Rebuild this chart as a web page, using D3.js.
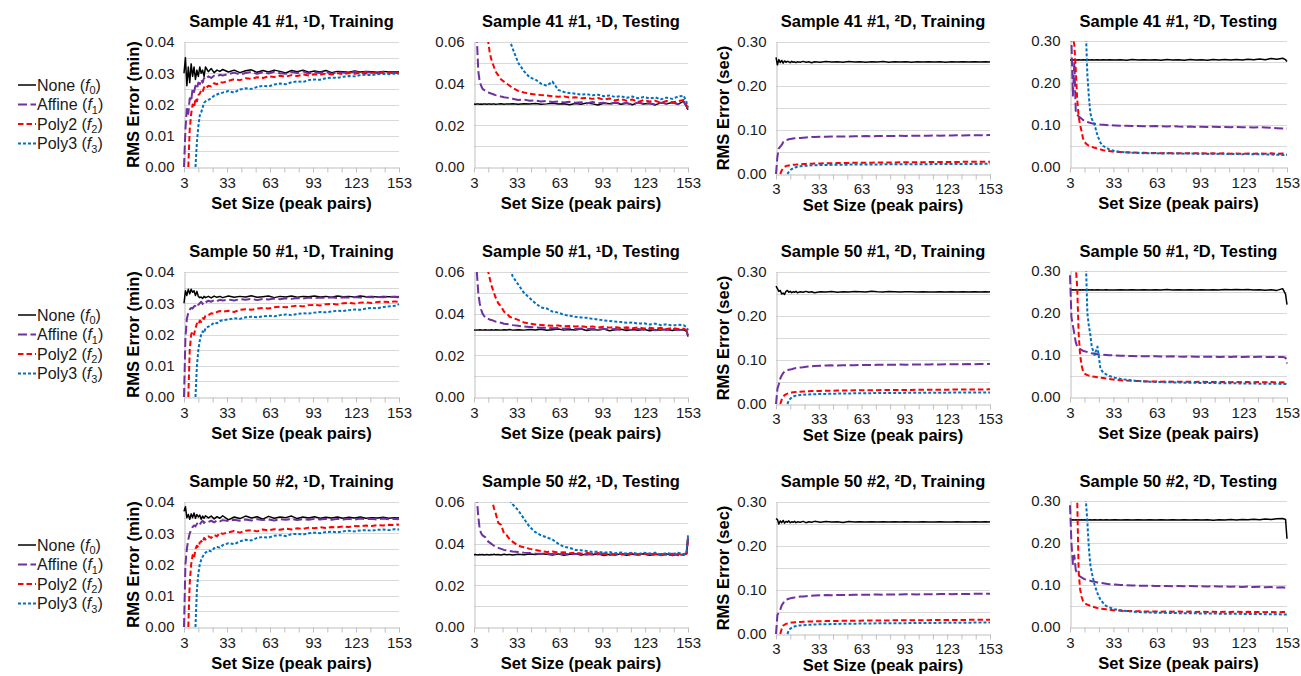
<!DOCTYPE html>
<html><head><meta charset="utf-8">
<script src="https://cdnjs.cloudflare.com/ajax/libs/d3/7.8.5/d3.min.js"></script>
<style>body{margin:0;background:#fff}svg{display:block;font-family:"Liberation Sans",Arial,sans-serif}</style>
</head><body><script>
// ---------- DATA ----------
const setSizes = [3,4,5,6,7,8,9,10,11,12,13,14,15,16,17,18,20,22,24,26,28,30,34,38,42,46,50,54,58,62,66,70,74,78,82,86,90,94,98,102,106,110,114,118,122,126,130,134,138,142,146,150,152,153];
const xTickLabels = [3,33,63,93,123,153];
const seriesNames = ["None","Affine","Poly2","Poly3"];
const seriesSubs = ["0","1","2","3"];
const sampleLabels = ["Sample 41 #1","Sample 50 #1","Sample 50 #2"];
const dimLabels = ["\u00B9D","\u00B9D","\u00B2D","\u00B2D"];
const phaseLabels = ["Training","Testing","Training","Testing"];
const yTitles = ["RMS Error (min)",null,"RMS Error (sec)",null];
const xTitle = "Set Size (peak pairs)";

// Sample 41 #1, 1D, Training
const S41_1D_Train_None=[0.030,0.035,0.026,0.032,0.027,0.033,0.029,0.032,0.028,0.031,0.029,0.032,0.030,0.031,0.029,0.032,
0.0305,0.0315,0.0302,0.031,0.0306,0.0312,
0.0304,0.031,0.0302,0.0308,0.0311,0.0303,0.0309,0.0304,0.031,0.0306,0.0301,0.0309,0.0305,0.031,0.0303,0.0307,0.0304,0.0309,0.0302,0.0306,0.0305,0.0303,0.0307,0.0304,0.0306,0.0305,0.0303,0.0306,0.0304,0.0305,0.0304,0.0305];
const S41_1D_Train_Affine=[0,0.012,0.019,0.017,0.022,0.021,0.025,0.024,0.026,0.025,0.027,0.0265,0.028,0.027,0.0285,0.028,
0.029,0.0285,0.0292,0.029,0.0295,0.0293,
0.0297,0.0302,0.0296,0.0301,0.0304,0.0298,0.0303,0.0299,0.0305,0.03,0.0298,0.0304,0.0301,0.0306,0.0299,0.0303,0.0301,0.0305,0.0298,0.0303,0.0302,0.03,0.0305,0.0301,0.0304,0.0302,0.03,0.0303,0.0302,0.0303,0.0301,0.0302];
const S41_1D_Train_Poly2=[null,null,null,0,0.012,0.017,0.02,0.019,0.022,0.021,0.023,0.0235,0.0245,0.024,0.0255,0.025,
0.026,0.0258,0.0268,0.0265,0.0272,0.027,
0.0276,0.0281,0.0278,0.0284,0.0282,0.0287,0.0285,0.029,0.0288,0.0292,0.0289,0.0294,0.0291,0.0296,0.0293,0.0297,0.0295,0.0299,0.0296,0.03,0.0297,0.0301,0.0298,0.0302,0.0299,0.0302,0.03,0.0303,0.0301,0.0302,0.0301,0.0302];
const S41_1D_Train_Poly3=[null,null,null,null,null,null,null,null,0,0.008,0.013,0.0165,0.0175,0.019,0.0205,0.021,
0.0215,0.022,0.0228,0.0232,0.0236,0.0238,
0.0243,0.0238,0.0248,0.0252,0.025,0.0256,0.026,0.0258,0.0264,0.0267,0.0265,0.0271,0.0274,0.0272,0.0278,0.028,0.0279,0.0284,0.0286,0.0285,0.0289,0.0291,0.029,0.0294,0.0295,0.0294,0.0297,0.0298,0.0297,0.0299,0.0298,0.0299];

// Sample 50 #1, 1D, Training
const S50a_1D_Train_None=[0.030,0.034,0.0325,0.0345,0.033,0.0345,0.0335,0.034,0.0325,0.0338,0.0322,0.0318,0.032,0.0315,0.0322,0.0318,
0.0322,0.0317,0.0323,0.0319,0.0322,0.0318,
0.0323,0.0319,0.0322,0.032,0.0324,0.0319,0.0321,0.0323,0.0318,0.0322,0.032,0.0323,0.0319,0.0322,0.0321,0.0323,0.032,0.0322,0.0319,0.0323,0.0321,0.0322,0.032,0.0323,0.0321,0.0322,0.032,0.0322,0.0321,0.0322,0.0321,0.0322];
const S50a_1D_Train_Affine=[0,0.019,0.025,0.027,0.028,0.0285,0.0283,0.029,0.0292,0.03,0.0295,0.03,0.0305,0.0298,0.0306,0.0303,
0.0308,0.0305,0.031,0.0307,0.0311,0.0309,
0.0312,0.0309,0.0313,0.0311,0.0314,0.031,0.0314,0.0312,0.0315,0.0313,0.0316,0.0314,0.0317,0.0315,0.0318,0.0316,0.0318,0.0317,0.0319,0.0317,0.0319,0.0318,0.032,0.0318,0.032,0.0319,0.032,0.0319,0.032,0.032,0.0319,0.032];
const S50a_1D_Train_Poly2=[null,null,null,0,0.015,0.02,0.021,0.02,0.022,0.0235,0.023,0.0245,0.024,0.0252,0.025,0.026,
0.0262,0.0268,0.0266,0.0272,0.0275,0.0273,
0.0276,0.0272,0.0279,0.0281,0.0279,0.0283,0.0285,0.0283,0.0287,0.0289,0.0287,0.029,0.0292,0.029,0.0294,0.0295,0.0293,0.0297,0.0298,0.0296,0.03,0.0301,0.0299,0.0302,0.0303,0.0301,0.0304,0.0305,0.0304,0.0306,0.0305,0.0306];
const S50a_1D_Train_Poly3=[null,null,null,null,null,null,null,null,0,0.01,0.015,0.018,0.02,0.021,0.0205,0.022,
0.0225,0.023,0.0238,0.0236,0.0243,0.0246,
0.0248,0.0252,0.025,0.0255,0.0257,0.0255,0.0258,0.026,0.0258,0.0262,0.0264,0.0262,0.0266,0.0268,0.0267,0.027,0.0272,0.0271,0.0274,0.0276,0.0275,0.0278,0.028,0.0279,0.0283,0.0285,0.0284,0.0288,0.029,0.0292,0.0295,0.0297];

// Sample 50 #2, 1D, Training
const S50b_1D_Train_None=[0.037,0.0385,0.035,0.036,0.0345,0.0362,0.035,0.0365,0.0348,0.036,0.0352,0.0358,0.0345,0.0355,0.0348,0.0356,
0.0349,0.0355,0.0346,0.0353,0.0348,0.0356,
0.0343,0.0352,0.0347,0.0355,0.0349,0.0353,0.0345,0.0354,0.0348,0.0352,0.035,0.0355,0.0347,0.0352,0.0349,0.0353,0.0348,0.0351,0.0349,0.0352,0.0348,0.0351,0.0349,0.0352,0.0348,0.035,0.0349,0.0351,0.0348,0.035,0.0349,0.035];
const S50b_1D_Train_Affine=[0,0.02,0.025,0.028,0.03,0.031,0.032,0.0325,0.0322,0.033,0.0335,0.0328,0.0335,0.034,0.0333,0.0338,
0.0336,0.034,0.0335,0.0341,0.0338,0.0342,
0.0339,0.0343,0.034,0.0344,0.0341,0.0345,0.0342,0.0344,0.0341,0.0345,0.0343,0.0346,0.0342,0.0345,0.0343,0.0346,0.0344,0.0346,0.0343,0.0346,0.0344,0.0346,0.0344,0.0347,0.0345,0.0346,0.0344,0.0347,0.0345,0.0346,0.0345,0.0346];
const S50b_1D_Train_Poly2=[null,null,null,0,0.014,0.02,0.023,0.022,0.025,0.026,0.0255,0.027,0.0275,0.027,0.0285,0.028,
0.029,0.0285,0.0295,0.029,0.0302,0.0298,
0.0303,0.0307,0.0302,0.0308,0.031,0.0306,0.0312,0.0309,0.0313,0.0311,0.0315,0.0312,0.0316,0.0314,0.0318,0.0316,0.0319,0.0317,0.032,0.0319,0.0322,0.032,0.0323,0.0322,0.0325,0.0323,0.0326,0.0325,0.0327,0.0326,0.0328,0.0327];
const S50b_1D_Train_Poly3=[null,null,null,null,null,null,null,null,0,0.012,0.017,0.02,0.0215,0.0225,0.0232,0.0238,
0.0245,0.0242,0.0252,0.0256,0.0254,0.0262,
0.0268,0.0265,0.0274,0.0279,0.0277,0.0285,0.0288,0.0286,0.0292,0.0294,0.0291,0.0297,0.0298,0.0296,0.03,0.0302,0.03,0.0304,0.0305,0.0303,0.0306,0.0308,0.0306,0.0309,0.031,0.0308,0.0311,0.0312,0.031,0.0313,0.0312,0.0313];

// Sample 41 #1, 1D, Testing
const S41_1D_Test_None=[0.0302,0.0301,0.0302,0.0303,0.0301,0.0302,0.0301,0.0303,0.0302,0.0301,0.0302,0.0303,0.0301,0.0302,0.0303,0.0301,
0.0302,0.0304,0.0301,0.0303,0.0302,0.0304,
0.0301,0.0304,0.0302,0.0305,0.0301,0.0303,0.0306,0.0302,0.0304,0.0299,0.0305,0.0301,0.0307,0.0303,0.0298,0.0306,0.0304,0.0308,0.0301,0.0306,0.0299,0.0309,0.0302,0.0306,0.0298,0.0308,0.0303,0.031,0.0302,0.0315,0.029,0.0275];
const S41_1D_Test_Affine=[0.1,0.08,0.062,0.046,0.041,0.039,0.0375,0.037,0.0365,0.036,0.0358,0.0355,0.0353,0.035,0.0348,0.0345,
0.0342,0.0338,0.0335,0.0333,0.033,0.0328,
0.0322,0.0324,0.0318,0.032,0.0314,0.0317,0.0312,0.0314,0.031,0.0313,0.0308,0.0311,0.0305,0.0312,0.0306,0.0309,0.0301,0.031,0.0304,0.0308,0.0299,0.031,0.0303,0.0306,0.03,0.0309,0.0303,0.0311,0.0301,0.0313,0.0291,0.0276];
const S41_1D_Test_Poly2=[0.2,0.15,0.12,0.1,0.09,0.08,0.075,0.07,0.066,0.062,0.06,0.055,0.052,0.05,0.048,0.046,
0.044,0.042,0.041,0.04,0.039,0.038,
0.0365,0.0358,0.0352,0.0348,0.0345,0.0343,0.034,0.0337,0.0339,0.0333,0.0335,0.033,0.0332,0.0327,0.0331,0.0323,0.0329,0.0319,0.0326,0.0318,0.0324,0.0312,0.0322,0.0314,0.0318,0.0308,0.0317,0.031,0.0316,0.0322,0.0295,0.027];
const S41_1D_Test_Poly3=[0.3,0.25,0.2,0.18,0.16,0.15,0.14,0.13,0.12,0.115,0.11,0.105,0.1,0.095,0.09,0.085,
0.08,0.075,0.07,0.066,0.061,0.057,
0.05,0.046,0.043,0.042,0.04,0.039,0.041,0.037,0.036,0.0355,0.0352,0.0348,0.035,0.0344,0.0347,0.034,0.0343,0.0336,0.034,0.0332,0.0338,0.033,0.0336,0.0329,0.0334,0.0325,0.0333,0.0327,0.0338,0.0342,0.031,0.0285];

// Sample 50 #1, 1D, Testing
const S50a_1D_Test_None=[0.0322,0.0321,0.0322,0.0321,0.0323,0.0322,0.0321,0.0322,0.0323,0.0321,0.0322,0.0321,0.0323,0.0322,0.0321,0.0323,
0.0322,0.0321,0.0323,0.0322,0.0324,0.0321,
0.0323,0.0321,0.0324,0.0322,0.0325,0.032,0.0323,0.0326,0.0321,0.0324,0.0322,0.0326,0.0319,0.0324,0.0321,0.0326,0.0318,0.0323,0.0325,0.0319,0.0324,0.032,0.0325,0.0318,0.0323,0.0321,0.0325,0.0319,0.0324,0.0322,0.0315,0.029];
const S50a_1D_Test_Affine=[0.09,0.075,0.06,0.05,0.045,0.042,0.04,0.039,0.038,0.0378,0.0375,0.0372,0.037,0.0368,0.0365,0.0362,
0.036,0.0356,0.0352,0.035,0.0348,0.0345,
0.0342,0.0338,0.0336,0.0334,0.0332,0.0333,0.033,0.0331,0.0328,0.033,0.0326,0.0329,0.0325,0.0328,0.0323,0.0327,0.0324,0.0326,0.0322,0.0327,0.0321,0.0326,0.0323,0.0327,0.032,0.0326,0.0322,0.0327,0.0321,0.0323,0.0316,0.0295];
const S50a_1D_Test_Poly2=[0.2,0.16,0.13,0.11,0.095,0.085,0.078,0.072,0.067,0.063,0.06,0.057,0.054,0.052,0.05,0.048,
0.045,0.0435,0.041,0.04,0.0385,0.038,
0.037,0.0358,0.0352,0.0348,0.0346,0.0344,0.0342,0.0343,0.034,0.0341,0.0338,0.034,0.0336,0.0339,0.0334,0.0337,0.0333,0.0336,0.0331,0.0335,0.033,0.0334,0.0329,0.0333,0.0328,0.0332,0.0327,0.0331,0.0326,0.0328,0.032,0.03];
const S50a_1D_Test_Poly3=[0.3,0.25,0.22,0.2,0.18,0.16,0.15,0.14,0.13,0.12,0.115,0.11,0.105,0.1,0.095,0.09,
0.085,0.08,0.075,0.07,0.064,0.058,
0.054,0.05,0.0475,0.045,0.043,0.0425,0.041,0.0405,0.0395,0.039,0.0385,0.0382,0.038,0.0375,0.0372,0.0368,0.0365,0.0362,0.036,0.0356,0.0358,0.0352,0.0354,0.0348,0.0352,0.0345,0.0349,0.0343,0.0347,0.0345,0.0335,0.032];

// Sample 50 #2, 1D, Testing
const S50b_1D_Test_None=[0.0347,0.0348,0.0347,0.0346,0.0348,0.0347,0.0348,0.0346,0.0347,0.0348,0.0347,0.0346,0.0348,0.0347,0.0349,0.0347,
0.0348,0.0346,0.0349,0.0347,0.0348,0.0346,
0.0349,0.0347,0.035,0.0348,0.0352,0.0349,0.0346,0.0351,0.0344,0.0349,0.0352,0.0345,0.035,0.0347,0.0352,0.0343,0.0349,0.0346,0.0351,0.0344,0.035,0.0347,0.0352,0.0344,0.0349,0.0346,0.0351,0.0343,0.035,0.0345,0.0352,0.0425];
const S50b_1D_Test_Affine=[0.1,0.08,0.062,0.053,0.047,0.045,0.044,0.0435,0.043,0.042,0.041,0.0405,0.04,0.0395,0.039,0.0385,
0.038,0.0375,0.037,0.0368,0.0365,0.0362,
0.036,0.0357,0.0355,0.0353,0.0352,0.035,0.0351,0.0349,0.0352,0.0348,0.035,0.0353,0.0347,0.0351,0.0348,0.0353,0.0345,0.035,0.0347,0.0352,0.0345,0.0351,0.0348,0.0353,0.0345,0.035,0.0347,0.0352,0.0344,0.0351,0.0353,0.043];
const S50b_1D_Test_Poly2=[0.25,0.2,0.17,0.15,0.13,0.115,0.1,0.09,0.082,0.075,0.07,0.066,0.062,0.06,0.057,0.055,
0.05,0.049,0.045,0.044,0.042,0.041,
0.039,0.0383,0.0375,0.037,0.0365,0.036,0.0362,0.0357,0.0359,0.0354,0.0357,0.0352,0.0356,0.035,0.0355,0.0348,0.0353,0.0346,0.0352,0.0347,0.0353,0.0345,0.0351,0.0347,0.0352,0.0344,0.035,0.0346,0.0351,0.0345,0.0352,0.042];
const S50b_1D_Test_Poly3=[0.3,0.27,0.24,0.22,0.2,0.18,0.17,0.16,0.15,0.14,0.13,0.125,0.12,0.11,0.105,0.1,
0.09,0.08,0.072,0.066,0.061,0.059,
0.056,0.052,0.048,0.0455,0.044,0.043,0.042,0.04,0.0385,0.038,0.037,0.0368,0.0365,0.036,0.0362,0.0356,0.036,0.0354,0.0358,0.0352,0.0357,0.035,0.0356,0.0351,0.0357,0.0348,0.0355,0.035,0.0356,0.0348,0.0356,0.044];

// Sample 41 #1, 2D, Training
const S41_2D_Train_None=[0.265,0.248,0.26,0.253,0.258,0.252,0.257,0.254,0.256,0.255,0.253,0.256,0.254,0.255,0.253,0.255,
0.254,0.256,0.254,0.255,0.253,0.255,
0.254,0.2555,0.2545,0.255,0.254,0.2555,0.2545,0.255,0.254,0.255,0.2545,0.2555,0.254,0.255,0.2545,0.255,0.254,0.255,0.2545,0.2552,0.2545,0.255,0.2542,0.255,0.2545,0.255,0.2545,0.2552,0.2545,0.255,0.2545,0.255];
const S41_2D_Train_Affine=[0,0.04,0.058,0.062,0.066,0.072,0.075,0.077,0.078,0.079,0.0795,0.08,0.0805,0.081,0.0812,0.0815,
0.082,0.0825,0.083,0.0835,0.084,0.0843,
0.0848,0.0845,0.0852,0.085,0.0855,0.0853,0.0858,0.0856,0.0862,0.0858,0.0864,0.0862,0.0866,0.0864,0.0868,0.0866,0.087,0.0868,0.0872,0.087,0.0874,0.0872,0.0876,0.0874,0.0878,0.0877,0.088,0.0878,0.0882,0.088,0.0884,0.0885];
const S41_2D_Train_Poly2=[null,null,null,0,0.008,0.013,0.016,0.018,0.019,0.0195,0.02,0.0205,0.021,0.0213,0.0215,0.0218,
0.022,0.0225,0.023,0.0233,0.0235,0.0238,
0.024,0.0243,0.0245,0.0248,0.025,0.0252,0.0254,0.0255,0.0257,0.0258,0.026,0.0261,0.0262,0.0264,0.0265,0.0266,0.0267,0.0268,0.0269,0.027,0.0271,0.0272,0.0273,0.0274,0.0275,0.0276,0.0277,0.0278,0.0278,0.0279,0.028,0.028];
const S41_2D_Train_Poly3=[null,null,null,null,null,null,null,null,0,0.005,0.009,0.011,0.013,0.0145,0.0155,0.0165,
0.0175,0.0182,0.0188,0.0192,0.0196,0.02,
0.0203,0.0206,0.0208,0.021,0.0212,0.0213,0.0214,0.0215,0.0216,0.0217,0.0218,0.0219,0.022,0.022,0.0221,0.0222,0.0222,0.0223,0.0224,0.0224,0.0225,0.0226,0.0226,0.0227,0.0228,0.0228,0.0229,0.023,0.023,0.0231,0.0232,0.0232];

// Sample 50 #1, 2D, Training
const S50a_2D_Train_None=[0.268,0.262,0.256,0.258,0.25,0.252,0.249,0.256,0.258,0.254,0.256,0.253,0.255,0.254,0.256,0.253,
0.255,0.254,0.256,0.254,0.255,0.253,
0.255,0.2545,0.2555,0.254,0.255,0.2545,0.2555,0.255,0.2545,0.2565,0.255,0.2545,0.2555,0.255,0.2545,0.255,0.2552,0.2545,0.255,0.2548,0.2545,0.2552,0.2548,0.255,0.2545,0.2552,0.2548,0.255,0.2546,0.2552,0.2548,0.255];
const S50a_2D_Train_Affine=[0,0.035,0.045,0.058,0.065,0.07,0.074,0.076,0.077,0.078,0.0785,0.079,0.08,0.081,0.082,0.0825,
0.083,0.0835,0.0845,0.0855,0.086,0.0865,
0.087,0.0873,0.0878,0.0875,0.088,0.0883,0.088,0.0886,0.0888,0.0886,0.089,0.0892,0.089,0.0894,0.0895,0.0893,0.0897,0.0898,0.0896,0.09,0.0901,0.0899,0.0903,0.0904,0.0902,0.0906,0.0907,0.0905,0.0908,0.091,0.0911,0.0912];
const S50a_2D_Train_Poly2=[null,null,null,0,0.01,0.017,0.02,0.022,0.0235,0.025,0.0255,0.026,0.0265,0.027,0.0272,0.0275,
0.028,0.0283,0.0287,0.029,0.0293,0.0295,
0.0298,0.03,0.0303,0.0305,0.0307,0.0309,0.031,0.0312,0.0313,0.0314,0.0315,0.0316,0.0317,0.0318,0.0319,0.032,0.0321,0.0322,0.0323,0.0323,0.0324,0.0325,0.0326,0.0327,0.0328,0.0328,0.0329,0.033,0.0331,0.0332,0.0333,0.0334];
const S50a_2D_Train_Poly3=[null,null,null,null,null,null,null,null,0,0.008,0.012,0.015,0.017,0.018,0.019,0.0198,
0.0205,0.021,0.0215,0.0218,0.022,0.0223,
0.0227,0.023,0.0233,0.0236,0.0238,0.024,0.0242,0.0244,0.0245,0.0247,0.0248,0.0249,0.025,0.0251,0.0252,0.0253,0.0254,0.0255,0.0256,0.0256,0.0257,0.0258,0.0258,0.0259,0.026,0.026,0.0261,0.0262,0.0262,0.0263,0.0264,0.0264];

// Sample 50 #2, 2D, Training
const S50b_2D_Train_None=[0.262,0.26,0.25,0.257,0.253,0.258,0.252,0.256,0.254,0.257,0.253,0.255,0.254,0.256,0.253,0.255,
0.254,0.256,0.253,0.255,0.254,0.256,
0.254,0.2555,0.2545,0.255,0.2535,0.2555,0.2545,0.255,0.2545,0.2552,0.2545,0.255,0.2548,0.2552,0.2545,0.255,0.2548,0.2545,0.2552,0.2548,0.2545,0.255,0.2548,0.2545,0.255,0.2548,0.2545,0.2552,0.2546,0.255,0.2546,0.255];
const S50b_2D_Train_Affine=[0,0.044,0.048,0.055,0.065,0.07,0.075,0.078,0.079,0.08,0.081,0.082,0.0825,0.083,0.0835,0.084,
0.085,0.0855,0.086,0.0865,0.087,0.0875,
0.088,0.0884,0.0882,0.0887,0.0889,0.0887,0.0891,0.0893,0.0891,0.0895,0.0896,0.0894,0.0898,0.0899,0.0897,0.0901,0.0902,0.09,0.0904,0.0905,0.0903,0.0907,0.0908,0.0906,0.091,0.0911,0.0909,0.0913,0.0914,0.0914,0.0915,0.0916];
const S50b_2D_Train_Poly2=[null,null,null,0,0.012,0.019,0.021,0.023,0.024,0.025,0.0255,0.026,0.0262,0.0265,0.0268,0.027,
0.0275,0.0278,0.028,0.0283,0.0285,0.0288,
0.029,0.0293,0.0295,0.0297,0.0299,0.03,0.0302,0.0303,0.0305,0.0306,0.0307,0.0308,0.0309,0.031,0.0311,0.0312,0.0313,0.0314,0.0315,0.0315,0.0316,0.0317,0.0318,0.0318,0.0319,0.032,0.0321,0.0322,0.0322,0.0323,0.0324,0.0325];
const S50b_2D_Train_Poly3=[null,null,null,null,null,null,null,null,0,0.008,0.012,0.014,0.016,0.017,0.018,0.0188,
0.0195,0.02,0.0205,0.021,0.0213,0.0216,
0.022,0.0223,0.0226,0.0229,0.0231,0.0233,0.0235,0.0237,0.0239,0.024,0.0242,0.0243,0.0244,0.0245,0.0246,0.0247,0.0248,0.0249,0.025,0.0251,0.0252,0.0253,0.0254,0.0255,0.0256,0.0257,0.0258,0.0259,0.026,0.0261,0.0262,0.0263];

// Sample 41 #1, 2D, Testing
const S41_2D_Test_None=[0.255,0.2552,0.2548,0.2553,0.255,0.2548,0.2553,0.255,0.2547,0.2552,0.2549,0.2553,0.2548,0.2551,0.2549,0.2552,
0.2548,0.2553,0.2549,0.2551,0.2548,0.2552,
0.2545,0.2555,0.2542,0.2558,0.2548,0.2553,0.2545,0.2556,0.2543,0.2558,0.2547,0.2553,0.2542,0.2562,0.2546,0.2555,0.2541,0.2558,0.2549,0.2562,0.2545,0.256,0.2548,0.2565,0.2552,0.2572,0.2555,0.2585,0.2565,0.259,0.2555,0.251];
const S41_2D_Test_Affine=[0.35,0.3,0.17,0.25,0.13,0.125,0.12,0.118,0.115,0.112,0.11,0.108,0.107,0.106,0.105,0.104,
0.103,0.102,0.101,0.1005,0.1,0.0995,
0.099,0.0985,0.098,0.0978,0.0975,0.0972,0.097,0.0975,0.0968,0.0965,0.097,0.0962,0.0958,0.0965,0.0955,0.096,0.0952,0.0958,0.095,0.0955,0.0948,0.0953,0.0945,0.095,0.0942,0.0948,0.094,0.0935,0.0925,0.0915,0.0912,0.0915];
const S41_2D_Test_Poly2=[0.4,0.35,0.31,0.29,0.23,0.16,0.12,0.1,0.085,0.068,0.06,0.056,0.053,0.051,0.05,0.048,
0.046,0.044,0.042,0.04,0.039,0.038,
0.036,0.0355,0.035,0.0345,0.034,0.0338,0.0335,0.0333,0.033,0.0332,0.0328,0.033,0.0326,0.0329,0.0325,0.0328,0.0322,0.0327,0.032,0.0325,0.0318,0.0324,0.0316,0.0322,0.0315,0.032,0.0318,0.0325,0.0312,0.0322,0.0305,0.03];
const S41_2D_Test_Poly3=[0.9,0.8,0.7,0.65,0.6,0.55,0.5,0.45,0.42,0.38,0.35,0.32,0.22,0.17,0.13,0.115,
0.1,0.075,0.058,0.05,0.046,0.042,
0.038,0.036,0.0345,0.034,0.0335,0.033,0.0328,0.0325,0.0322,0.0325,0.032,0.0322,0.0318,0.032,0.0315,0.0318,0.0312,0.0316,0.031,0.0314,0.0308,0.0312,0.0305,0.031,0.0302,0.0306,0.03,0.0298,0.029,0.0288,0.0285,0.0285];

// Sample 50 #1, 2D, Testing
const S50a_2D_Test_None=[0.2552,0.255,0.2553,0.2549,0.2552,0.255,0.2548,0.2552,0.255,0.2553,0.2549,0.2551,0.255,0.2553,0.2548,0.2551,
0.2549,0.2552,0.255,0.2548,0.2552,0.255,
0.2548,0.2553,0.2545,0.2555,0.2549,0.2552,0.2547,0.2553,0.2549,0.2558,0.2548,0.2553,0.2547,0.2552,0.2548,0.2555,0.2545,0.2553,0.255,0.2558,0.2555,0.2562,0.2552,0.2558,0.2545,0.2555,0.2542,0.2552,0.2538,0.258,0.245,0.22];
const S50a_2D_Test_Affine=[0.29,0.19,0.17,0.15,0.13,0.12,0.116,0.114,0.112,0.11,0.109,0.108,0.107,0.106,0.105,0.104,
0.103,0.102,0.101,0.1005,0.1,0.0995,
0.099,0.0985,0.098,0.0975,0.0972,0.097,0.0968,0.0972,0.0966,0.0964,0.0968,0.0962,0.096,0.0965,0.0958,0.0962,0.0956,0.096,0.0955,0.0958,0.0954,0.0962,0.0952,0.0957,0.0953,0.096,0.0952,0.0955,0.095,0.0955,0.0935,0.08];
const S50a_2D_Test_Poly2=[0.6,0.5,0.4,0.35,0.31,0.26,0.15,0.1,0.075,0.062,0.056,0.054,0.052,0.051,0.05,0.049,
0.048,0.047,0.046,0.045,0.044,0.043,
0.041,0.04,0.039,0.0385,0.038,0.0375,0.037,0.0372,0.0366,0.0368,0.0362,0.0366,0.036,0.0364,0.0358,0.0362,0.0356,0.036,0.0354,0.0359,0.0353,0.0358,0.0352,0.0357,0.035,0.0356,0.0349,0.0355,0.0345,0.0352,0.0345,0.034];
const S50a_2D_Test_Poly3=[0.9,0.8,0.72,0.66,0.6,0.55,0.5,0.46,0.42,0.38,0.35,0.32,0.2,0.17,0.15,0.12,
0.1,0.12,0.068,0.058,0.054,0.05,
0.046,0.043,0.041,0.0395,0.038,0.037,0.0365,0.036,0.0355,0.035,0.0348,0.0345,0.0342,0.034,0.0337,0.0335,0.0333,0.0332,0.033,0.0328,0.0326,0.0325,0.0323,0.0322,0.032,0.0318,0.0317,0.0315,0.0313,0.0312,0.031,0.0305];

// Sample 50 #2, 2D, Testing
const S50b_2D_Test_None=[0.2552,0.255,0.2553,0.2549,0.2551,0.2548,0.2552,0.255,0.2553,0.2549,0.2551,0.2548,0.2552,0.255,0.2553,0.2549,
0.2551,0.2548,0.2552,0.255,0.2553,0.2548,
0.2552,0.2547,0.2554,0.2548,0.2552,0.2546,0.2553,0.2549,0.2555,0.2546,0.2552,0.2548,0.2556,0.2545,0.2553,0.2549,0.2556,0.2544,0.2554,0.2548,0.2558,0.2546,0.2562,0.2552,0.2566,0.2556,0.257,0.2558,0.2575,0.2585,0.256,0.21];
const S50b_2D_Test_Affine=[0.29,0.2,0.15,0.17,0.135,0.128,0.124,0.12,0.118,0.116,0.114,0.113,0.112,0.111,0.11,0.109,
0.108,0.106,0.105,0.104,0.103,0.102,
0.101,0.1,0.0995,0.099,0.0985,0.098,0.0982,0.0978,0.0975,0.0978,0.0972,0.0975,0.097,0.0974,0.0968,0.0972,0.0966,0.097,0.0963,0.0968,0.096,0.0965,0.0955,0.0962,0.095,0.0958,0.0945,0.0952,0.094,0.0948,0.0935,0.096];
const S50b_2D_Test_Poly2=[0.7,0.6,0.5,0.42,0.36,0.3,0.13,0.09,0.072,0.062,0.058,0.055,0.053,0.052,0.05,0.049,
0.047,0.045,0.044,0.043,0.042,0.041,
0.0395,0.0388,0.038,0.0378,0.0375,0.0372,0.037,0.0372,0.0366,0.037,0.0365,0.0369,0.0362,0.0367,0.036,0.0366,0.0358,0.0365,0.0357,0.0364,0.0356,0.0363,0.0355,0.0362,0.0354,0.036,0.0352,0.0358,0.035,0.0356,0.036,0.0385];
const S50b_2D_Test_Poly3=[0.9,0.8,0.72,0.66,0.6,0.55,0.5,0.45,0.41,0.37,0.33,0.3,0.25,0.19,0.15,0.13,
0.1,0.08,0.065,0.057,0.05,0.047,
0.042,0.04,0.038,0.0365,0.0355,0.035,0.0345,0.034,0.0338,0.0335,0.0333,0.033,0.0328,0.0326,0.0325,0.0322,0.0321,0.032,0.0318,0.0316,0.0315,0.0313,0.0312,0.031,0.0309,0.0307,0.0306,0.0304,0.0302,0.03,0.0298,0.0298];

// panel table (rows x columns), each panel = [None, Affine, Poly2, Poly3]
const panelSeries = [
  [[S41_1D_Train_None,S41_1D_Train_Affine,S41_1D_Train_Poly2,S41_1D_Train_Poly3],
   [S41_1D_Test_None,S41_1D_Test_Affine,S41_1D_Test_Poly2,S41_1D_Test_Poly3],
   [S41_2D_Train_None,S41_2D_Train_Affine,S41_2D_Train_Poly2,S41_2D_Train_Poly3],
   [S41_2D_Test_None,S41_2D_Test_Affine,S41_2D_Test_Poly2,S41_2D_Test_Poly3]],
  [[S50a_1D_Train_None,S50a_1D_Train_Affine,S50a_1D_Train_Poly2,S50a_1D_Train_Poly3],
   [S50a_1D_Test_None,S50a_1D_Test_Affine,S50a_1D_Test_Poly2,S50a_1D_Test_Poly3],
   [S50a_2D_Train_None,S50a_2D_Train_Affine,S50a_2D_Train_Poly2,S50a_2D_Train_Poly3],
   [S50a_2D_Test_None,S50a_2D_Test_Affine,S50a_2D_Test_Poly2,S50a_2D_Test_Poly3]],
  [[S50b_1D_Train_None,S50b_1D_Train_Affine,S50b_1D_Train_Poly2,S50b_1D_Train_Poly3],
   [S50b_1D_Test_None,S50b_1D_Test_Affine,S50b_1D_Test_Poly2,S50b_1D_Test_Poly3],
   [S50b_2D_Train_None,S50b_2D_Train_Affine,S50b_2D_Train_Poly2,S50b_2D_Train_Poly3],
   [S50b_2D_Test_None,S50b_2D_Test_Affine,S50b_2D_Test_Poly2,S50b_2D_Test_Poly3]]
];

// ---------- LAYOUT & STYLE ----------
const colLayout = [
  {x0:184,x1:399,top:42,bottom:167,yMax:0.04,grid:0.005,label:0.01,yTitleX:133,tickPad:5,xTitleDy:42},
  {x0:474,x1:688,top:42,bottom:167,yMax:0.06,grid:0.01,label:0.02,yTitleX:null,tickPad:5,xTitleDy:42},
  {x0:776,x1:990,top:42,bottom:174,yMax:0.30,grid:0.05,label:0.10,yTitleX:723,tickPad:3.5,xTitleDy:37},
  {x0:1070,x1:1287,top:41,bottom:167,yMax:0.30,grid:0.05,label:0.10,yTitleX:null,tickPad:5,xTitleDy:42}
];
const rowOffsets = [0,230,460];
const seriesStyle = [
  {color:"#000000",dash:null,w:1.5},
  {color:"#7030A0",dash:"9,3.5",w:2},
  {color:"#FF0000",dash:"5.5,3",w:2},
  {color:"#0070C0",dash:"3,2",w:2}
];
const FONT = '"Liberation Sans", Arial, sans-serif';
const textCol = "#1a1a1a";
const H = 676;

const svg = d3.select("body").append("svg").attr("width",1301).attr("height",H);
svg.append("rect").attr("width",1301).attr("height",H).attr("fill","#fff");
const defs = svg.append("defs");

panelSeries.forEach((row, r) => row.forEach((series, c) => {
  const L = colLayout[c], oy = rowOffsets[r];
  const x = d3.scaleLinear().domain([3,153]).range([L.x0, L.x1]);
  const y = d3.scaleLinear().domain([0,L.yMax]).range([L.bottom+oy, L.top+oy]);
  const g = svg.append("g");

  // gridlines
  const nGrid = Math.round(L.yMax/L.grid);
  const gridVals = d3.range(1, nGrid+1).map(i => i*L.grid);
  g.selectAll("line.grid").data(gridVals).join("line").attr("class","grid")
    .attr("x1",L.x0).attr("x2",L.x1)
    .attr("y1",d=>Math.round(y(d))+0.5).attr("y2",d=>Math.round(y(d))+0.5)
    .attr("stroke","#d9d9d9").attr("stroke-width",1);

  // y axis
  const nLab = Math.round(L.yMax/L.label);
  const ya = g.append("g").attr("transform",`translate(${L.x0+0.5},0)`)
    .call(d3.axisLeft(y).tickValues(d3.range(0,nLab+1).map(i=>i*L.label))
      .tickSize(0).tickPadding(10).tickFormat(d3.format(".2f")));
  ya.attr("font-family",FONT).attr("font-size",15);
  ya.select(".domain").attr("stroke","#bfbfbf");
  ya.selectAll("text").attr("fill",textCol);

  // x axis
  const xa = g.append("g").attr("transform",`translate(0,${Math.round(L.bottom+oy)+0.5})`)
    .call(d3.axisBottom(x).tickValues(d3.range(3,154,10)).tickSizeInner(5).tickSizeOuter(0)
      .tickPadding(L.tickPad).tickFormat(d => xTickLabels.includes(d) ? d : ""));
  xa.attr("font-family",FONT).attr("font-size",15);
  xa.select(".domain").attr("stroke","#bfbfbf");
  xa.selectAll(".tick line").attr("stroke","#bfbfbf");
  xa.selectAll("text").attr("fill",textCol);

  // clip
  const cid = `clip-${r}-${c}`;
  defs.append("clipPath").attr("id",cid).append("rect")
    .attr("x",L.x0-3).attr("y",L.top+oy).attr("width",L.x1-L.x0+6).attr("height",L.bottom-L.top+3);

  const line = d3.line().defined(d => d.v != null).x(d => x(d.s)).y(d => y(d.v));
  series.forEach((vals, k) => {
    const pts = setSizes.map((s,i) => ({s, v: i < vals.length ? vals[i] : null}));
    const st = seriesStyle[k];
    g.append("path").datum(pts).attr("d",line).attr("clip-path",`url(#${cid})`)
      .attr("fill","none").attr("stroke",st.color).attr("stroke-width",st.w)
      .attr("stroke-dasharray",st.dash).attr("stroke-linejoin","round");
  });

  // title
  g.append("text").attr("x",(L.x0+L.x1)/2).attr("y",oy+27).attr("text-anchor","middle")
    .attr("font-family",FONT).attr("font-size",16.5).attr("font-weight","bold").attr("fill","#000")
    .text(`${sampleLabels[r]}, ${dimLabels[c]}, ${phaseLabels[c]}`);
  // x title
  g.append("text").attr("x",(L.x0+L.x1)/2).attr("y",L.bottom+oy+L.xTitleDy)
    .attr("text-anchor","middle")
    .attr("font-family",FONT).attr("font-size",16.5).attr("font-weight","bold").attr("fill","#000")
    .text(xTitle);
  // y title
  if (yTitles[c]) {
    g.append("text").attr("transform",`translate(${L.yTitleX},${(L.top+L.bottom)/2+oy}) rotate(-90)`)
      .attr("dy","0.35em").attr("text-anchor","middle")
      .attr("font-family",FONT).attr("font-size",16.5).attr("font-weight","bold").attr("fill","#000")
      .text(yTitles[c]);
  }
}));

// legends
rowOffsets.forEach(oy => {
  seriesNames.forEach((name, k) => {
    const ly = oy + 85 + k*19.5;
    const st = seriesStyle[k];
    svg.append("line").attr("x1",18).attr("x2",36).attr("y1",ly).attr("y2",ly)
      .attr("stroke",st.color).attr("stroke-width",st.w).attr("stroke-dasharray",st.dash);
    const t = svg.append("text").attr("x",37).attr("y",ly+5.5)
      .attr("font-family",FONT).attr("font-size",16).attr("fill",textCol);
    t.append("tspan").text(name + " (");
    t.append("tspan").attr("font-style","italic").text("f");
    t.append("tspan").attr("font-size",11).attr("dy",3.5).text(seriesSubs[k]);
    t.append("tspan").attr("dy",-3.5).text(")");
  });
});
</script></body></html>
